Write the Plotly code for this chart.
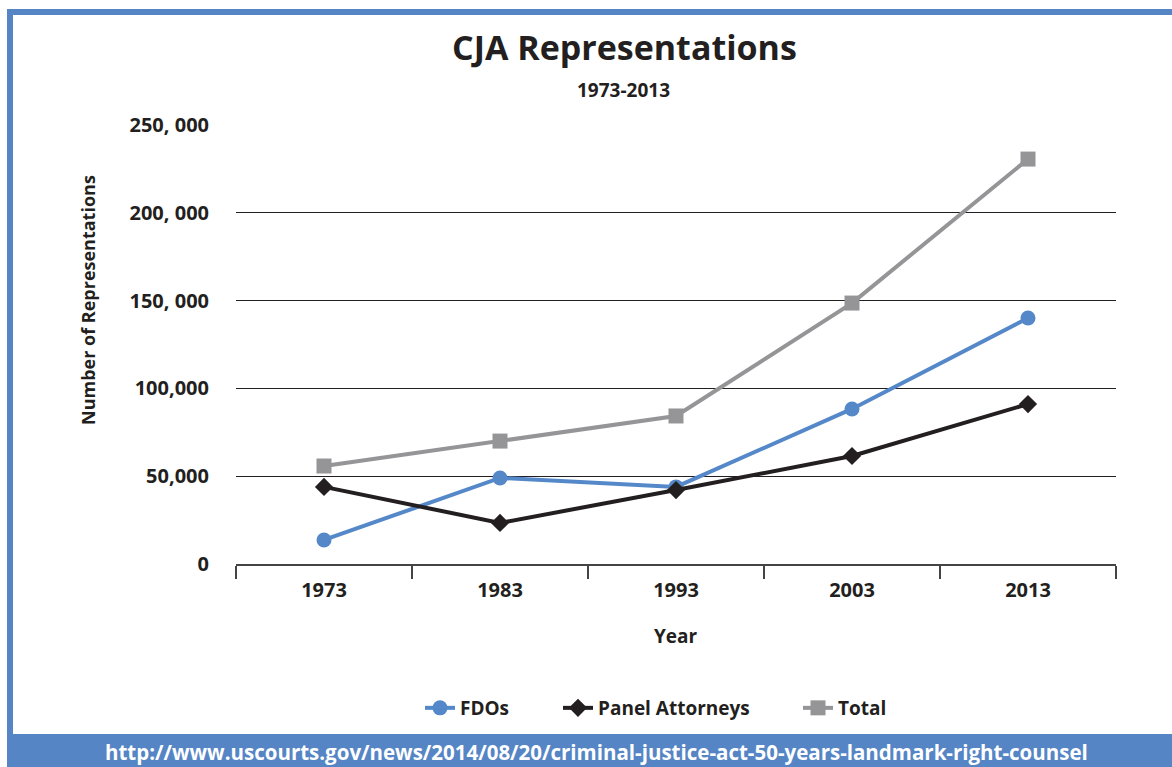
import plotly.graph_objects as go

years = ["1973", "1983", "1993", "2003", "2013"]
fdos = [13700, 49000, 43900, 88300, 140100]
panel = [43900, 23400, 42100, 61500, 91100]
total = [55800, 70000, 84300, 148600, 230600]
ytick_vals = [0, 50000, 100000, 150000, 200000, 250000]
ytick_text = ["0", "50,000", "100,000", "150, 000", "200, 000", "250, 000"]

W, H = 1172, 767
L, R, T, B = 236, 1116, 125, 564
FONT = "Open Sans"
DARK = "#231f20"
BLUE = "#5585c5"

def px(x):
    return (x - L) / (R - L)

def py(y):
    return (B - y) / (B - T)

fig = go.Figure()
fig.add_trace(go.Scatter(x=years, y=fdos, name="FDOs", mode="lines+markers", legend="legend",
                         line=dict(color="#5588c8", width=4),
                         marker=dict(symbol="circle", size=15, color="#5588c8")))
fig.add_trace(go.Scatter(x=years, y=panel, name="Panel Attorneys", mode="lines+markers", legend="legend2",
                         line=dict(color="#231f20", width=4),
                         marker=dict(symbol="diamond", size=14, color="#231f20")))
fig.add_trace(go.Scatter(x=years, y=total, name="Total", mode="lines+markers", legend="legend3",
                         line=dict(color="#959598", width=4),
                         marker=dict(symbol="square", size=15, color="#959598")))

legfont = dict(family=FONT, size=19, color=DARK, weight="bold")
def leg(text_start):
    return dict(orientation="h", x=px(text_start - 42), xanchor="left", y=py(708), yanchor="middle",
                font=legfont, bgcolor="rgba(0,0,0,0)", borderwidth=0)

fig.update_layout(
    width=W, height=H,
    margin=dict(l=L, r=W - R, t=T, b=H - B),
    paper_bgcolor="white", plot_bgcolor="white",
    font=dict(family=FONT, color=DARK, size=16),
    showlegend=True,
    legend=leg(462), legend2=leg(600), legend3=leg(840),
    xaxis=dict(type="category", showgrid=False, showline=True, linecolor="#444444", linewidth=2,
               ticks="outside", tickson="boundaries", ticklen=13, tickwidth=2, tickcolor="#444444",
               ticklabelstandoff=7,
               tickfont=dict(family=FONT, size=20, color=DARK, weight="bold"),
               range=[-0.5, 4.5], zeroline=False),
    yaxis=dict(range=[0, 250000], tickvals=ytick_vals, ticktext=ytick_text,
               showgrid=True, gridcolor="#231f20", gridwidth=1, zeroline=False, showline=False,
               ticks="", ticklabelstandoff=26,
               tickfont=dict(family=FONT, size=20, color=DARK, weight="bold")),
)

shapes = [
    dict(type="rect", xref="paper", yref="paper", x0=px(7), x1=px(13), y0=py(767), y1=py(9),
         fillcolor=BLUE, line=dict(width=0), layer="below"),
    dict(type="rect", xref="paper", yref="paper", x0=px(7), x1=px(1172), y0=py(15), y1=py(9),
         fillcolor=BLUE, line=dict(width=0), layer="below"),
    dict(type="rect", xref="paper", yref="paper", x0=px(7), x1=px(1172), y0=py(767), y1=py(734),
         fillcolor=BLUE, line=dict(width=0), layer="below"),
]
fig.update_layout(shapes=shapes)

annotations = [
    dict(text="CJA Representations", x=px(624), y=py(47), xref="paper", yref="paper",
         showarrow=False, xanchor="center", yanchor="middle",
         font=dict(family=FONT, size=34, color=DARK, weight="bold")),
    dict(text="1973-2013", x=px(623), y=py(90), xref="paper", yref="paper",
         showarrow=False, xanchor="center", yanchor="middle",
         font=dict(family=FONT, size=19, color=DARK, weight="bold")),
    dict(text="Year", x=px(676), y=py(636), xref="paper", yref="paper",
         showarrow=False, xanchor="center", yanchor="middle",
         font=dict(family=FONT, size=19, color=DARK, weight="bold")),
    dict(text="Number of Representations", x=px(88), y=py(300), xref="paper", yref="paper",
         showarrow=False, xanchor="center", yanchor="middle", textangle=-90,
         font=dict(family=FONT, size=18, color=DARK, weight="bold")),
    dict(text="http://www.uscourts.gov/news/2014/08/20/criminal-justice-act-50-years-landmark-right-counsel",
         x=px(596), y=py(752), xref="paper", yref="paper",
         showarrow=False, xanchor="center", yanchor="middle",
         font=dict(family=FONT, size=20.5, color="white", weight="bold")),
]
fig.update_layout(annotations=annotations)

fig.write_html("out.html", config={"displayModeBar": False},
               post_script="document.body.style.margin='0';document.body.style.overflow='hidden';")
